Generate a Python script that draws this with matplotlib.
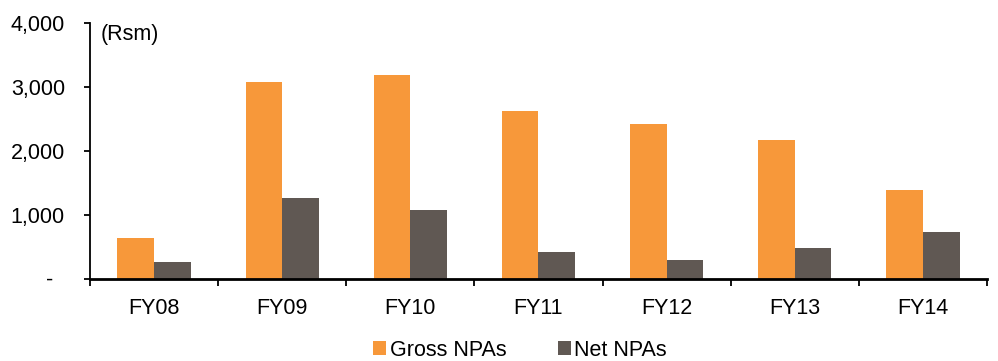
import matplotlib
matplotlib.use("Agg")
import matplotlib.pyplot as plt
import numpy as np

categories = ["FY08", "FY09", "FY10", "FY11", "FY12", "FY13", "FY14"]
gross_npas = [629, 3068, 3187, 2624, 2411, 2161, 1379]
net_npas = [258, 1259, 1066, 414, 289, 477, 722]
y_ticks = [0, 1000, 2000, 3000, 4000]
y_tick_labels = ["-  ", "1,000", "2,000", "3,000", "4,000"]

ORANGE = "#F7983A"
GREY = "#605853"
FS = 15.5

plt.rcParams["font.family"] = ["Liberation Sans", "DejaVu Sans"]
plt.rcParams["font.size"] = FS

fig = plt.figure(figsize=(9.98, 3.61), dpi=100)
ax = fig.add_axes([90 / 998, 1 - 278.5 / 361, (987 - 90) / 998, (278.5 - 22.7) / 361])

x = np.arange(len(categories))
width = 1 / 3.5
ax.bar(x - width / 2, gross_npas, width, color=ORANGE, label="Gross NPAs")
ax.bar(x + width / 2, net_npas, width, color=GREY, label="Net NPAs")

ax.set_xlim(-0.5, len(categories) - 0.5)
ax.set_ylim(0, 4000)
ax.set_yticks(y_ticks)
ax.set_yticklabels(y_tick_labels)

# Category labels centred, tick marks on the category boundaries
ax.set_xticks(x)
ax.set_xticklabels(categories)
ax.tick_params(axis="x", which="major", length=0, pad=14)
ax.set_xticks(np.arange(len(categories) + 1) - 0.5, minor=True)
ax.tick_params(axis="x", which="minor", length=5, width=1.3, direction="out")
ax.tick_params(axis="y", length=4, width=1.3, direction="out", pad=14)

for side in ("top", "right"):
    ax.spines[side].set_visible(False)
ax.spines["left"].set_linewidth(1.3)
ax.spines["bottom"].set_linewidth(2)

ax.text(0.012, 0.955, "(Rsm)", transform=ax.transAxes, ha="left", va="center", fontsize=FS)

fig.legend(loc="center", bbox_to_anchor=(520 / 998, 1 - 350 / 361), ncol=2, frameon=False,
           handlelength=0.6, handleheight=0.6, handletextpad=0.15, columnspacing=2.4,
           fontsize=FS)

fig.savefig("out.png", dpi=100)
